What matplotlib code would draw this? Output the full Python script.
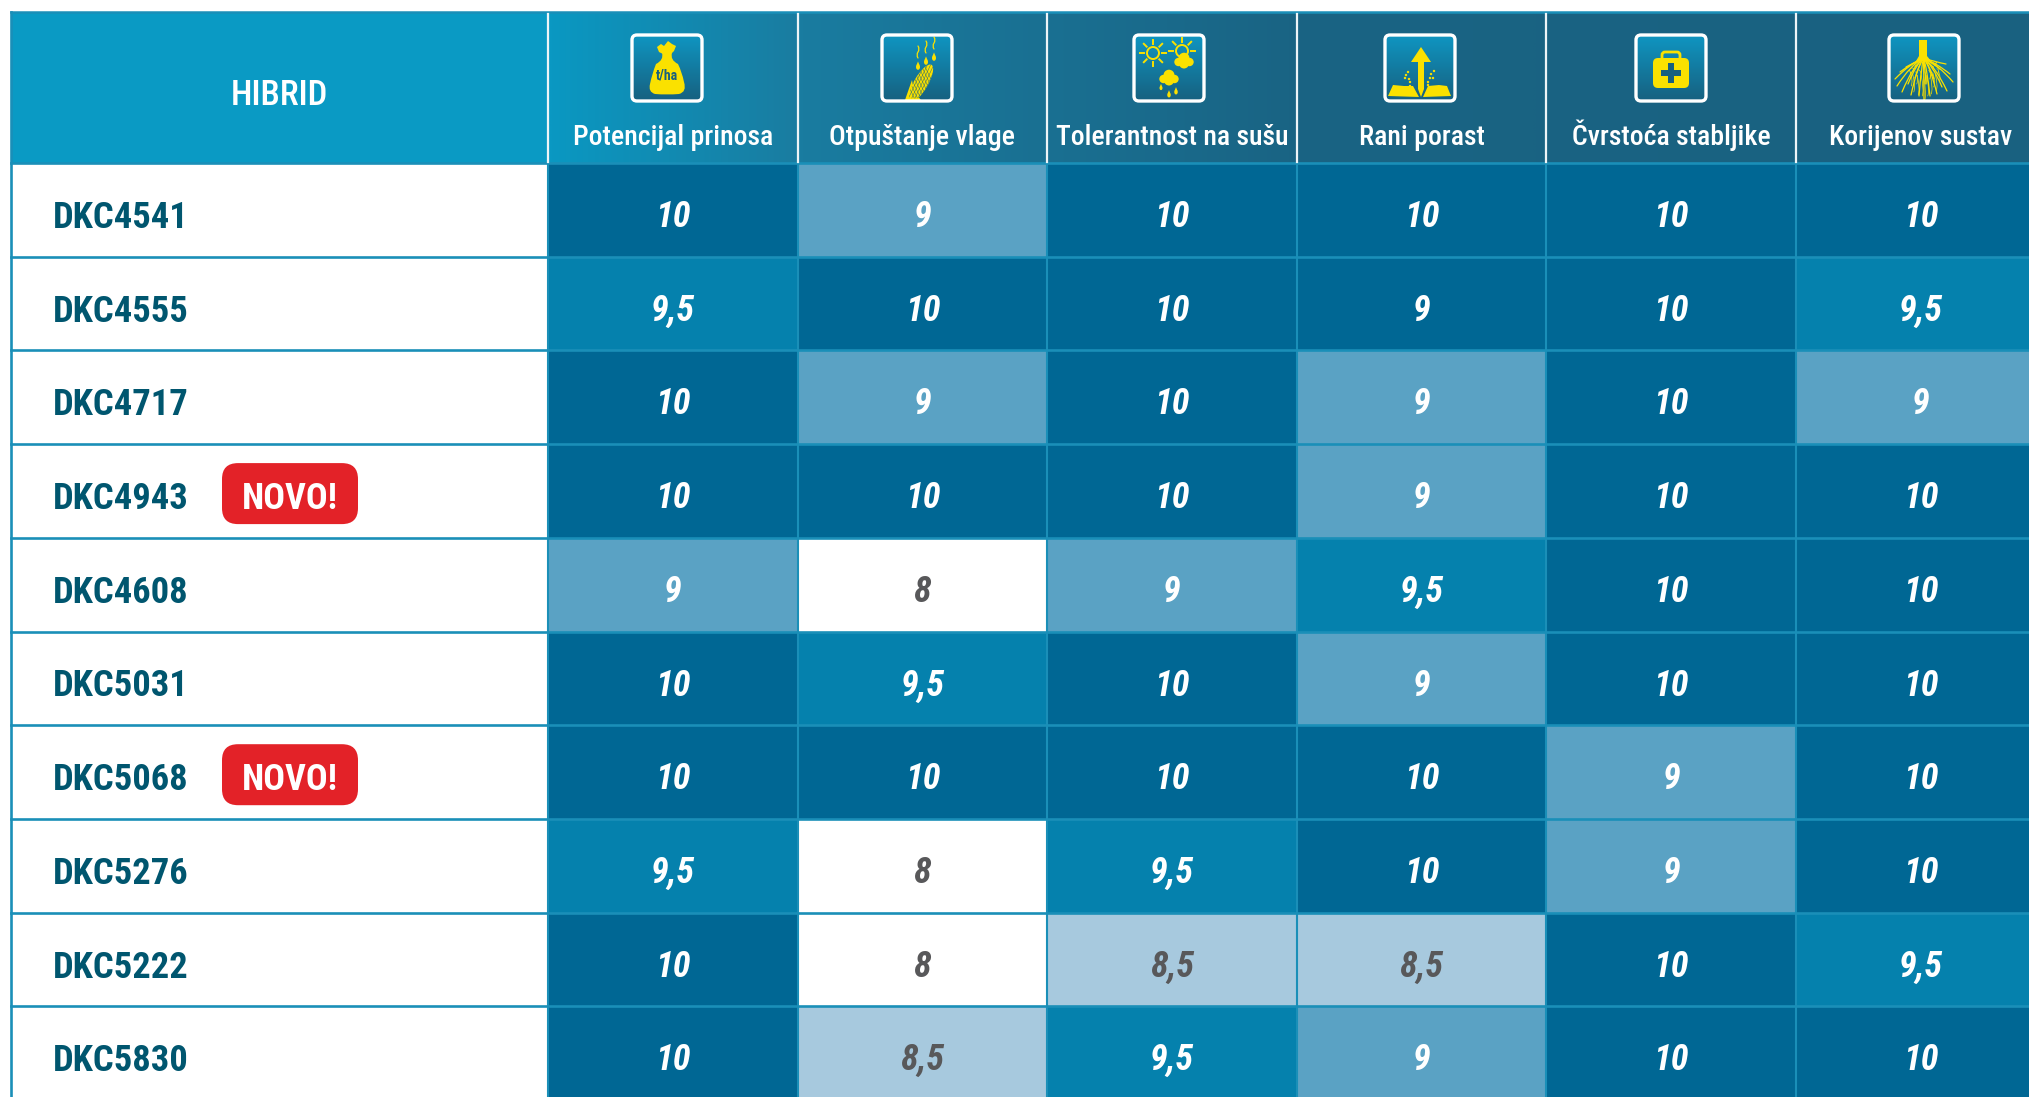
import matplotlib
matplotlib.use("Agg")
import matplotlib.pyplot as plt
import numpy as np
from matplotlib.colors import LinearSegmentedColormap
from matplotlib.patches import Circle, Ellipse, FancyBboxPatch, PathPatch, Polygon, Rectangle
from matplotlib.path import Path

plt.rcParams['font.family'] = ['Roboto Condensed', 'DejaVu Sans']

# chart data
hybrids = ["DKC4541", "DKC4555", "DKC4717", "DKC4943", "DKC4608",
           "DKC5031", "DKC5068", "DKC5276", "DKC5222", "DKC5830"]
new_hybrids = ["DKC4943", "DKC5068"]
traits = ["Potencijal prinosa", "Otpuštanje vlage", "Tolerantnost na sušu",
          "Rani porast", "Čvrstoća stabljike", "Korijenov sustav"]
potencijal = [10, 9.5, 10, 10, 9, 10, 10, 9.5, 10, 10]
otpustanje = [9, 10, 9, 10, 8, 9.5, 10, 8, 8, 8.5]
tolerantnost = [10, 10, 10, 10, 9, 10, 10, 9.5, 8.5, 9.5]
porast = [10, 9, 9, 9, 9.5, 9, 10, 10, 8.5, 9]
cvrstoca = [10, 10, 10, 10, 10, 10, 9, 9, 10, 10]
korijen = [10, 9.5, 9, 10, 10, 10, 10, 10, 9.5, 10]
scores = [potencijal, otpustanje, tolerantnost, porast, cvrstoca, korijen]
# in the original DKC4555 / Rani porast reads 9 but is shaded like a 10
shade_override = {(3, 1): 10}

cell_colors = {10: "#006794", 9.5: "#0581ad", 9: "#5aa2c4", 8.5: "#a7c9de", 8: "#ffffff"}
line_col = "#1a8fb8"
yellow = "#fae100"
icon_dark = "#17607f"

left, table_x, top, head_bot = 11, 548, 12, 163
col_w, row_h = 249.6, 93.7
box_x = [631, 881, 1133, 1384, 1635, 1888]

fig = plt.figure(figsize=(20.29, 10.97), dpi=100)
ax = fig.add_axes([0, 0, 1, 1])

# header backgrounds
ax.add_patch(Rectangle((left, top), table_x - left, head_bot - top, color="#0a9ac4", lw=0))
head_cmap = LinearSegmentedColormap.from_list(
    "head", [(0, "#0a98c2"), (0.17, "#1a7ca0"), (0.5, "#196484"), (1, "#1a6180")])
ax.imshow(np.linspace(0, 1, 512).reshape(1, -1), cmap=head_cmap, aspect="auto",
          extent=(table_x, 2029, head_bot, top))
icon_cmap = LinearSegmentedColormap.from_list("icon", ["#0f96c2", "#17607f"])

# cells
for c, col in enumerate(scores):
    for r, v in enumerate(col):
        x = table_x + c * col_w
        y = head_bot + r * row_h
        fill = cell_colors[shade_override.get((c, r), v)]
        ax.add_patch(Rectangle((x, y), col_w, row_h, color=fill, lw=0))
        txt = str(v).replace(".", ",")
        ax.text(x + col_w / 2, y + 64, txt, ha="center", va="baseline", fontsize=26,
                fontweight="bold", fontstyle="italic",
                color="#ffffff" if v >= 9 else "#58585a")

# grid lines
for r in range(len(hybrids) + 1):
    ax.plot([left, 2029], [head_bot + r * row_h] * 2, color=line_col, lw=1.9)
ax.plot([left, 2029], [top, top], color=line_col, lw=1.8)
ax.plot([left, left], [top, 1097], color=line_col, lw=1.9)
for c in range(len(traits)):
    x = table_x + c * col_w
    ax.plot([x, x], [head_bot, 1097], color=line_col, lw=1.5)
    ax.plot([x, x], [top + 2, head_bot - 1], color="#eef4f7", lw=1.6)

# left column
ax.text(279, 105, "HIBRID", ha="center", va="baseline", fontsize=25, fontweight=500, color="white")
for r, name in enumerate(hybrids):
    y = head_bot + r * row_h
    ax.text(53, y + 65, name, ha="left", va="baseline", fontsize=26.3,
            fontweight="bold", color="#00566f")
    if name in new_hybrids:
        ax.add_patch(FancyBboxPatch((222, y + 19), 136, 61,
                                    boxstyle="round,pad=0,rounding_size=16",
                                    color="#e32228", lw=0))
        ax.text(290, y + 65, "NOVO!", ha="center", va="baseline", fontsize=26,
                fontweight="bold", color="white")

# header labels
for c, name in enumerate(traits):
    ax.text(table_x + c * col_w + col_w / 2, 145, name, ha="center", va="baseline",
            fontsize=20, fontweight=500, color="white")


def poly(x0, pts, col=yellow, clip=None):
    p = Polygon([(x0 + a, 34 + b) for a, b in pts], closed=True, color=col, lw=0)
    ax.add_patch(p)
    if clip is not None:
        p.set_clip_path(clip)
    return p


def curve(x0, pts, col=yellow, lw=1.0):
    verts = [(x0 + a, 34 + b) for a, b in pts]
    codes = [Path.MOVETO] + [Path.CURVE3] * (len(pts) - 1)
    ax.add_patch(PathPatch(Path(verts, codes), fc="none", ec=col, lw=lw, capstyle="round"))


def drop(x0, a, b, s=1.0, col=yellow):
    ax.add_patch(Ellipse((x0 + a, 34 + b), 5 * s, 7 * s, color=col, lw=0))
    poly(x0, [(a - 2 * s, b - 2 * s), (a, b - 7 * s), (a + 2 * s, b - 2 * s)], col)


def blob(x0, a, b, w, col=yellow):
    # cloud made from overlapping circles
    for da, db, rad in [(-0.55, 0.1, 0.42), (0, -0.28, 0.55), (0.55, 0.1, 0.42), (0, 0.25, 0.5)]:
        ax.add_patch(Circle((x0 + a + da * w, 34 + b + db * w), rad * w, color=col, lw=0))


def sun(x0, a, b, rad, rays):
    ax.add_patch(Circle((x0 + a, 34 + b), rad, fc="none", ec=yellow, lw=1.4))
    for ang in rays:
        t = np.deg2rad(ang)
        ax.plot([x0 + a + (rad + 3) * np.cos(t), x0 + a + (rad + 7) * np.cos(t)],
                [34 + b + (rad + 3) * np.sin(t), 34 + b + (rad + 7) * np.sin(t)],
                color=yellow, lw=1.4)


# icon boxes
frames = []
for x0 in box_x:
    im = ax.imshow(np.linspace(0, 1, 64).reshape(-1, 1), cmap=icon_cmap, aspect="auto",
                   extent=(x0, x0 + 72, 34 + 68, 34))
    frame = FancyBboxPatch((x0 + 4, 38), 64, 60, boxstyle="round,pad=3,rounding_size=5",
                           fc="none", ec="white", lw=2.4, zorder=6)
    ax.add_patch(frame)
    im.set_clip_path(frame)
    frames.append(frame)

# yield bag
x0 = box_x[0]
bag_pts = [(31, 19), (33, 26), (25, 30), (21, 40), (19, 50), (17, 58), (24, 60), (36, 61),
           (48, 60), (56, 58), (53, 48), (51, 38), (47, 30), (39, 26), (41, 19), (36, 20), (31, 19)]
bag_codes = [Path.MOVETO] + [Path.CURVE3] * 16
ax.add_patch(PathPatch(Path([(x0 + a, 34 + b) for a, b in bag_pts], bag_codes), color=yellow, lw=0))
poly(x0, [(26, 13), (30, 10), (33, 12), (37, 7), (41, 10), (45, 12), (43, 17), (40, 20), (32, 20), (28, 18)])
ax.text(x0 + 36, 34 + 45, "t/ha", ha="center", va="baseline", fontsize=10,
        fontweight="bold", color=icon_dark)

# corn and moisture
x0 = box_x[1]
cob = Ellipse((x0 + 40, 34 + 49), 14, 42, angle=30, color=yellow, lw=0)
ax.add_patch(cob)
cob.set_clip_path(frames[1])
leaf = poly(x0, [(24, 66), (31, 46), (33, 58), (40, 66)])
leaf.set_clip_path(frames[1])
for k in range(-4, 5):
    ax.plot([x0 + 34 + k * 3.2, x0 + 50 + k * 3.2], [34 + 64, 34 + 30], color=icon_dark, lw=0.4, alpha=0.8,
            clip_path=cob)
    ax.plot([x0 + 30 + k * 3.2, x0 + 46 + k * 3.2], [34 + 30, 34 + 64], color=icon_dark, lw=0.4, alpha=0.8,
            clip_path=cob)
for a, b in [(37, 33), (45, 28), (53, 24)]:
    drop(x0, a, b, 0.8)
    curve(x0, [(a, b - 9), (a - 2, b - 12), (a, b - 15), (a + 2, b - 18), (a, b - 21)], lw=0.9)

# weather
x0 = box_x[2]
sun(x0, 20, 19, 6, range(0, 360, 45))
sun(x0, 49, 17, 6, [180, 225, 270, 315, 0])
blob(x0, 51, 27, 10)
blob(x0, 36, 44, 10)
for a, b, s in [(28, 54, 0.6), (36, 61, 0.7), (43, 58, 0.7)]:
    drop(x0, a, b, s)

# early growth arrow
x0 = box_x[3]
poly(x0, [(37, 13), (47, 28), (40, 28), (40, 55), (37, 63), (34, 55), (34, 28), (27, 28)])
poly(x0, [(4, 62), (9, 51), (20, 52), (29, 52), (35, 63)])
poly(x0, [(39, 63), (44, 52), (55, 51), (63, 52), (67, 62)])
for a, b in [(22, 41), (24, 38), (21, 44), (25, 45), (26, 48), (26, 52),
             (47, 40), (50, 37), (46, 44), (49, 44), (44, 48), (44, 51)]:
    ax.add_patch(Circle((x0 + a, 34 + b), 1.2, color=yellow, lw=0))

# stalk strength case
x0 = box_x[4]
ax.add_patch(FancyBboxPatch((x0 + 27, 34 + 18), 18, 10, boxstyle="round,pad=0,rounding_size=3",
                            fc="none", ec=yellow, lw=2))
ax.add_patch(FancyBboxPatch((x0 + 21, 34 + 27), 30, 24, boxstyle="round,pad=3,rounding_size=5",
                            color=yellow, lw=0))
ax.add_patch(Rectangle((x0 + 32.5, 34 + 29), 6, 20, color=icon_dark, lw=0))
ax.add_patch(Rectangle((x0 + 25.5, 34 + 36), 20, 6, color=icon_dark, lw=0))

# roots
x0 = box_x[5]
poly(x0, [(31, 6), (39, 6), (39, 22), (43, 27), (28, 27), (31, 22)])
root_ends = [(7, 45), (9, 52), (12, 38), (14, 58), (18, 33), (20, 50), (23, 61), (27, 44),
             (31, 62), (36, 66), (38, 50), (42, 62), (46, 45), (49, 60), (52, 35), (54, 53),
             (59, 57), (62, 40), (65, 48), (58, 30)]
for a, b in root_ends:
    curve(x0, [(35.5, 24), ((35.5 + a) / 2, 27 + (b - 24) * 0.15), (a, b)], lw=0.9)
    curve(x0, [((35.5 + a) / 2, 30 + (b - 24) * 0.3), ((35.5 + a) / 2 + 3, b - 5),
               ((35.5 + a) / 2 + 1, b)], lw=0.5)

ax.set_xlim(0, 2029)
ax.set_ylim(1097, 0)
ax.axis("off")
fig.savefig("out.png", dpi=100, facecolor="white")
